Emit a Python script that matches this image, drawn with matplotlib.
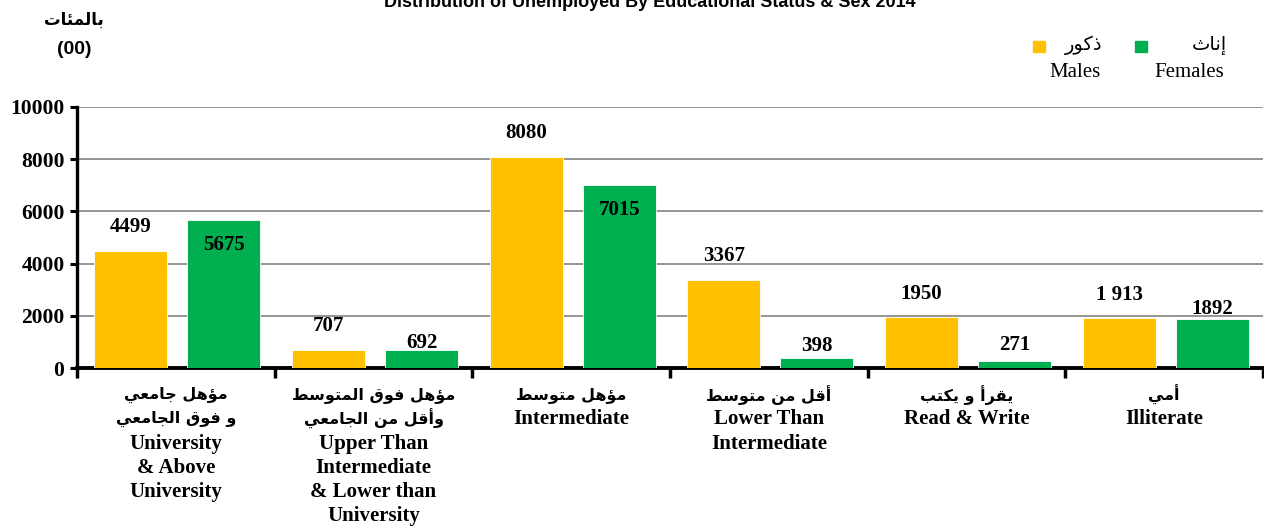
import matplotlib
matplotlib.use("Agg")
import matplotlib.pyplot as plt
import numpy as np
from matplotlib.patches import Rectangle
from matplotlib.transforms import blended_transform_factory


# data (hundreds)
categories_ar = [
    ["مؤهل جامعي", "و فوق الجامعي"],
    ["مؤهل فوق المتوسط", "وأقل من الجامعي"],
    ["مؤهل متوسط"],
    ["أقل من متوسط"],
    ["يقرأ و يكتب"],
    ["أمي"],
]
categories_en = [
    ["University", "& Above", "University"],
    ["Upper Than", "Intermediate", "& Lower than", "University"],
    ["Intermediate"],
    ["Lower Than", "Intermediate"],
    ["Read & Write"],
    ["Illiterate"],
]
males = [4499, 707, 8080, 3367, 1950, 1913]
females = [5675, 692, 7015, 398, 271, 1892]
male_labels = ["4499", "707", "8080", "3367", "1950", "1 913"]
female_labels = ["5675", "692", "7015", "398", "271", "1892"]
yticks = [0, 2000, 4000, 6000, 8000, 10000]

TITLE = "Distribution of Unemployed By Educational Status & Sex 2014"

YELLOW = "#FFC000"
GREEN = "#00B050"
SERIF = ["Liberation Serif", "DejaVu Serif"]
ARABIC = ["DejaVu Sans"]

# label offsets (pixels, + means down from bar top) as placed in the original
male_off = [-24, -24, -24, -24, -23, -23]
female_off = [25, -7, 25, -12, -16, -10]

# minimal arabic shaping: (isolated, final, initial, medial)
FORMS = {
    "ا": ("\uFE8D", "\uFE8E", None, None),
    "أ": ("\uFE83", "\uFE84", None, None),
    "إ": ("\uFE87", "\uFE88", None, None),
    "ؤ": ("\uFE85", "\uFE86", None, None),
    "ئ": ("\uFE89", "\uFE8A", "\uFE8B", "\uFE8C"),
    "ب": ("\uFE8F", "\uFE90", "\uFE91", "\uFE92"),
    "ت": ("\uFE95", "\uFE96", "\uFE97", "\uFE98"),
    "ث": ("\uFE99", "\uFE9A", "\uFE9B", "\uFE9C"),
    "ج": ("\uFE9D", "\uFE9E", "\uFE9F", "\uFEA0"),
    "ذ": ("\uFEAB", "\uFEAC", None, None),
    "ر": ("\uFEAD", "\uFEAE", None, None),
    "س": ("\uFEB1", "\uFEB2", "\uFEB3", "\uFEB4"),
    "ط": ("\uFEC1", "\uFEC2", "\uFEC3", "\uFEC4"),
    "ع": ("\uFEC9", "\uFECA", "\uFECB", "\uFECC"),
    "ف": ("\uFED1", "\uFED2", "\uFED3", "\uFED4"),
    "ق": ("\uFED5", "\uFED6", "\uFED7", "\uFED8"),
    "ك": ("\uFED9", "\uFEDA", "\uFEDB", "\uFEDC"),
    "ل": ("\uFEDD", "\uFEDE", "\uFEDF", "\uFEE0"),
    "م": ("\uFEE1", "\uFEE2", "\uFEE3", "\uFEE4"),
    "ن": ("\uFEE5", "\uFEE6", "\uFEE7", "\uFEE8"),
    "ه": ("\uFEE9", "\uFEEA", "\uFEEB", "\uFEEC"),
    "و": ("\uFEED", "\uFEEE", None, None),
    "ي": ("\uFEF1", "\uFEF2", "\uFEF3", "\uFEF4"),
}


def shape(text):
    out = []
    for i, c in enumerate(text):
        if c not in FORMS:
            out.append(c)
            continue
        prev = text[i - 1] if i > 0 else ""
        nxt = text[i + 1] if i + 1 < len(text) else ""
        join_prev = prev in FORMS and FORMS[prev][2] is not None
        join_next = FORMS[c][2] is not None and nxt in FORMS
        iso, fin, ini, med = FORMS[c]
        if join_prev and join_next:
            out.append(med)
        elif join_prev:
            out.append(fin)
        elif join_next:
            out.append(ini)
        else:
            out.append(iso)
    return "".join(reversed(out))


W, H = 1264, 528
fig = plt.figure(figsize=(W / 100, H / 100), dpi=100)
ax = fig.add_axes([77 / W, 1 - 368 / H, (1263 - 77) / W, (368 - 107) / H])

x = np.arange(len(males))
bw = 0.37
ax.bar(x - 0.228, males, bw, color=YELLOW, edgecolor="white", linewidth=0.6, zorder=3)
ax.bar(x + 0.243, females, bw, color=GREEN, edgecolor="white", linewidth=0.6, zorder=3)

ax.set_xlim(-0.5, len(males) - 0.5)
ax.set_ylim(0, 10000)
ax.set_yticks(yticks)
ax.set_yticklabels([str(v) for v in yticks], fontsize=15.5, fontweight="bold", family=SERIF)
ax.yaxis.grid(True, color="#8c8c8c", linewidth=1.3, zorder=0)
ax.set_axisbelow(True)

ax.set_xticks(np.arange(len(males) + 1) - 0.5)
ax.set_xticklabels([])
ax.tick_params(axis="x", length=7, width=2.5, direction="out", color="black")
ax.tick_params(axis="y", length=5, width=2.2, direction="out", pad=4, color="black")

for side in ["top", "right"]:
    ax.spines[side].set_visible(False)
ax.spines["left"].set_linewidth(2.4)
ax.spines["bottom"].set_linewidth(2.8)

# value labels
for i in range(len(males)):
    ax.annotate(male_labels[i], (x[i] - 0.228, males[i]), xytext=(0, -male_off[i] * 0.72),
                textcoords="offset points", ha="center", va="center",
                fontsize=15, fontweight="bold", family=SERIF, zorder=5)
    ax.annotate(female_labels[i], (x[i] + 0.243, females[i]), xytext=(0, -female_off[i] * 0.72),
                textcoords="offset points", ha="center", va="center",
                fontsize=15, fontweight="bold", family=SERIF, zorder=5)

# category labels, one line each
trans = blended_transform_factory(ax.transData, ax.transAxes)
for i in range(len(males)):
    lines = [(shape(t), True) for t in categories_ar[i]] + [(t, False) for t in categories_en[i]]
    for j, (txt, is_ar) in enumerate(lines):
        dy = -(27 + 24.3 * j) * 0.72
        if is_ar:
            ax.annotate(txt, (x[i], 0), xycoords=trans, xytext=(0, dy), textcoords="offset points",
                        ha="center", va="center", fontsize=11.5, fontweight="bold",
                        family=ARABIC, annotation_clip=False)
        else:
            ax.annotate(txt, (x[i], 0), xycoords=trans, xytext=(0, dy), textcoords="offset points",
                        ha="center", va="center", fontsize=15, fontweight="bold",
                        family=SERIF, annotation_clip=False)

# title (cut off at top like the original)
fig.text(650 / W, 1 - 7 / H, TITLE, ha="center", va="baseline", fontsize=13,
         fontweight="bold", family=["Liberation Sans", "DejaVu Sans"])

# unit label
fig.text(74 / W, 1 - 20 / H, shape("بالمئات"), ha="center", va="center",
         fontsize=12, fontweight="bold", family=ARABIC)
fig.text(74 / W, 1 - 50 / H, "(00)", ha="center", va="center", fontsize=14,
         fontweight="bold", family=["Liberation Sans", "DejaVu Sans"])

# legend
for x0, color in [(1033, YELLOW), (1135, GREEN)]:
    fig.patches.append(Rectangle((x0 / W, 1 - 52 / H), 12 / W, 11 / H,
                                 transform=fig.transFigure, color=color))
fig.text(1084 / W, 1 - 45 / H, shape("ذكور"), ha="center", va="center", fontsize=14, family=ARABIC)
fig.text(1209 / W, 1 - 45 / H, shape("إناث"), ha="center", va="center", fontsize=14, family=ARABIC)
fig.text(1075 / W, 1 - 73 / H, "Males", ha="center", va="center", fontsize=15, family=SERIF)
fig.text(1189 / W, 1 - 73 / H, "Females", ha="center", va="center", fontsize=15, family=SERIF)

fig.savefig("out.png", dpi=100)
